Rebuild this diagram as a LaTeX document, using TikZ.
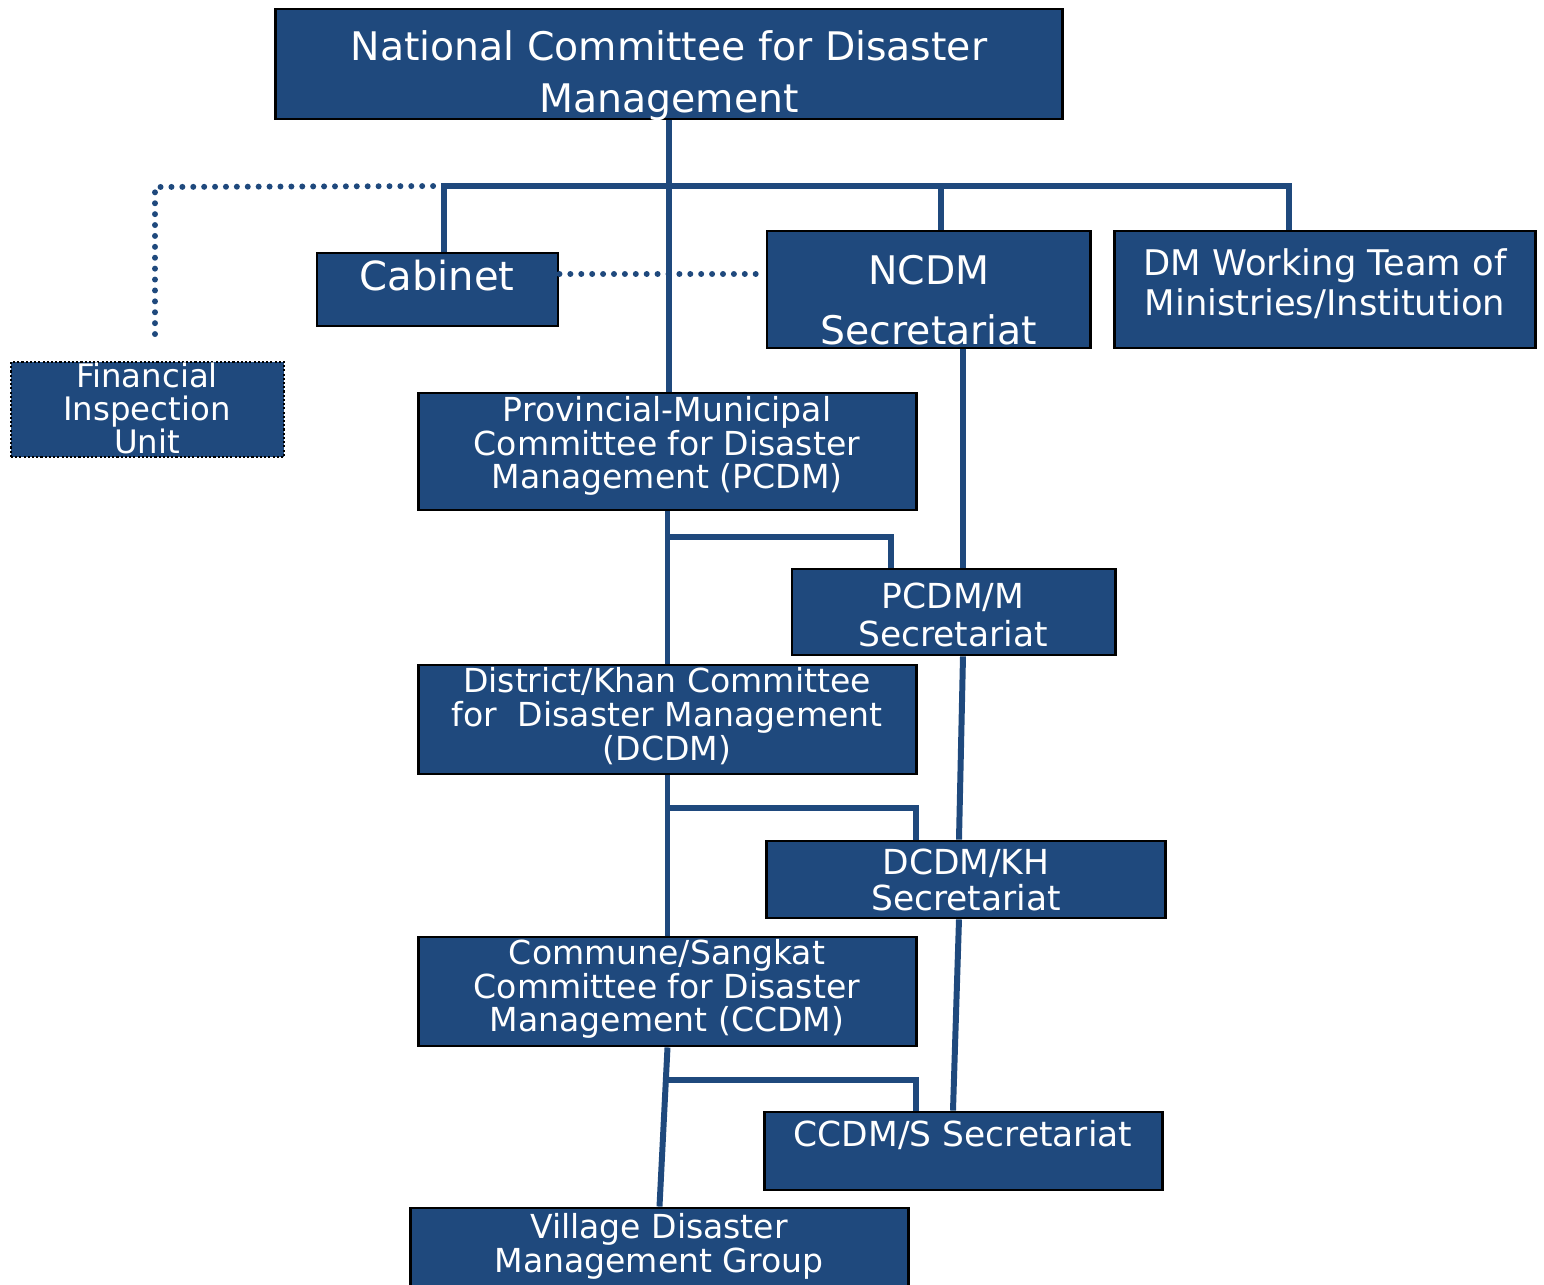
\documentclass[tikz,border=0pt]{standalone}
\usepackage{fontspec}
\setmainfont{DejaVu Sans}
\usetikzlibrary{calc}
\definecolor{ncdmblue}{HTML}{1F497D}
\newcommand{\orgfont}[2]{\fontsize{#1}{#2}\selectfont\lineskiplimit=-50pt}
\tikzset{
	orgbox/.style={draw=black, line width=0.8pt, fill=ncdmblue, inner sep=0pt},
	dotbox/.style={line width=0.6pt, dash pattern=on 0.6pt off 0.6pt},
	orgtext/.style={text=white, align=center, inner sep=0pt},
	link/.style={draw=ncdmblue, line width=1.7pt},
	dotlink/.style={draw=ncdmblue, line width=1.7pt, line cap=round, dash pattern=on 0pt off 3.1pt},
}

\begin{document}
\begin{tikzpicture}[x=0.01cm, y=-0.01cm]
	%%%%% START %%%%%
	\useasboundingbox (0,0) rectangle (1544,1285);
	
	% boxes
	\node[orgbox, minimum width=7.86cm, minimum height=1.10cm] (ncdm) at (669,64) {};
	\node[orgbox, minimum width=2.41cm, minimum height=0.73cm] (cab) at (437.5,289.5) {};
	\node[orgbox, minimum width=3.23cm, minimum height=1.17cm] (sec) at (928.5,289.5) {};
	\node[orgbox, minimum width=4.20cm, minimum height=1.17cm] (dmwt) at (1325,289.5) {};
	\node[orgbox, dotbox, minimum width=2.73cm, minimum height=0.95cm] (fiu) at (147.5,409.5) {};
	\node[orgbox, minimum width=4.97cm, minimum height=1.17cm] (pcdm) at (667.5,451.5) {};
	\node[orgbox, minimum width=3.23cm, minimum height=0.86cm] (pcdmsec) at (953.5,612) {};
	\node[orgbox, minimum width=4.97cm, minimum height=1.09cm] (dcdm) at (667.5,719.5) {};
	\node[orgbox, minimum width=3.98cm, minimum height=0.77cm] (dcdmsec) at (966,879.5) {};
	\node[orgbox, minimum width=4.97cm, minimum height=1.09cm] (ccdm) at (667.5,991.5) {};
	\node[orgbox, minimum width=3.97cm, minimum height=0.78cm] (ccdmsec) at (963.5,1151) {};
	\node[orgbox, minimum width=4.97cm, minimum height=1.00cm] (vdmg) at (659.5,1258) {};
	
	% national level
	\coordinate (barL) at (444,186);
	\coordinate (barS) at (941,186);
	\coordinate (barR) at (1289,186);
	\draw[link] (ncdm.south) -- (ncdm.south |- pcdm.north);
	\draw[link] (cab.north -| barL) -- (barL) -- (barR) -- (dmwt.north -| barR);
	\draw[link] (barS) -- (sec.north -| barS);
	
	\coordinate (dotC) at (155,187);
	\coordinate (fiuT) at (155,335);
	\coordinate (dotY) at (0,274);
	\draw[dotlink] (barL) -- (dotC) -- (fiuT);
	\draw[dotlink] (cab.east |- dotY) -- (sec.west |- dotY);
	
	% secretariat chain
	\coordinate (sxA) at (963,0);
	\coordinate (sxB) at (959,0);
	\coordinate (sxC) at (953,0);
	\draw[link] (sec.south -| sxA) -- (pcdmsec.north -| sxA);
	\draw[link] (pcdmsec.south -| sxA) -- (dcdmsec.north -| sxB);
	\draw[link] (dcdmsec.south -| sxB) -- (ccdmsec.north -| sxC);
	
	% committee chain
	\coordinate (brA) at (668,537);
	\coordinate (brAe) at (891,537);
	\coordinate (brB) at (668,808);
	\coordinate (brBe) at (916,808);
	\coordinate (brC) at (668,1080);
	\coordinate (brCe) at (916,1080);
	\draw[link] (pcdm.south) -- (dcdm.north);
	\draw[link] (brA) -- (brAe) -- (pcdmsec.north -| brAe);
	\draw[link] (dcdm.south) -- (ccdm.north);
	\draw[link] (brB) -- (brBe) -- (dcdmsec.north -| brBe);
	\draw[link] (ccdm.south) -- (vdmg.north);
	\draw[link] (brC) -- (brCe) -- (ccdmsec.north -| brCe);
	
	% texts
	\node[orgtext, font=\orgfont{11.2}{14.8}] (ncdm-t) at (669,76) {National Committee for Disaster\\Management};
	\node[orgtext, font=\orgfont{11.4}{14}] (cab-t) at (437,276) {Cabinet};
	\node[orgtext, font=\orgfont{11.2}{17.1}] (sec-t) at (929,300) {NCDM\\Secretariat};
	\node[orgtext, font=\orgfont{10.05}{11.4}] (dmwt-t) at (1325,284) {DM Working Team of\\Ministries/Institution};
	\node[orgtext, font=\orgfont{9.2}{9.4}] (fiu-t) at (147,408.5) {Financial\\Inspection\\Unit};
	\node[orgtext, font=\orgfont{9.4}{9.6}] (pcdm-t) at (667,446) {Provincial-Municipal\\Committee for Disaster\\Management (PCDM)};
	\node[orgtext, font=\orgfont{9.8}{10.8}] (pcdmsec-t) at (953,615) {PCDM/M\\Secretariat};
	\node[orgtext, font=\orgfont{9.4}{9.6}] (dcdm-t) at (667,716) {District/Khan Committee\\for~ Disaster Management\\(DCDM)};
	\node[orgtext, font=\orgfont{9.8}{10}] (dcdmsec-t) at (966,880) {DCDM/KH\\Secretariat};
	\node[orgtext, font=\orgfont{9.4}{9.6}] (ccdm-t) at (667,989) {Commune/Sangkat\\Committee for Disaster\\Management (CCDM)};
	\node[orgtext, font=\orgfont{9.8}{10}] (ccdmsec-t) at (963,1135) {CCDM/S Secretariat};
	\node[orgtext, font=\orgfont{9.4}{9.6}] (vdmg-t) at (659,1246) {Village Disaster\\Management Group};
	
	%%%%% END %%%%%
\end{tikzpicture}
\end{document}
